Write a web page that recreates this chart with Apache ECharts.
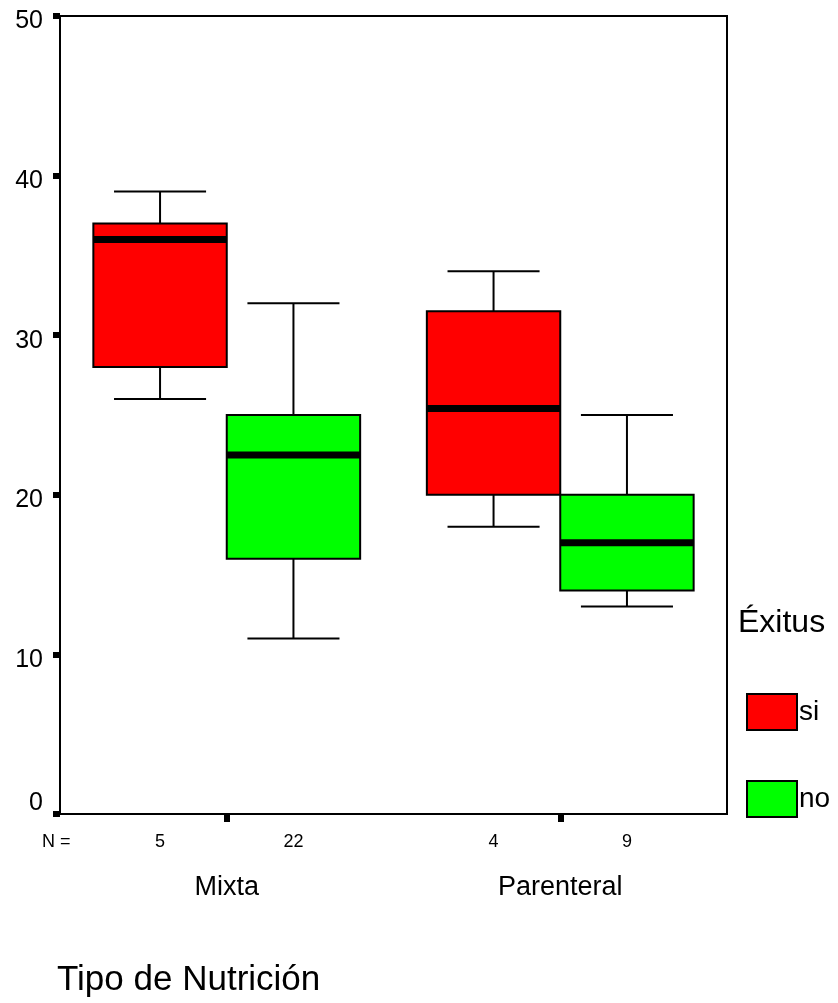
<!DOCTYPE html>
<html>
<head>
<meta charset="utf-8">
<script src="https://cdn.jsdelivr.net/npm/echarts@6/dist/echarts.min.js"></script>
<style>
  html, body { margin: 0; padding: 0; background: #fff; }
  #chart { width: 838px; height: 1003px; }
</style>
</head>
<body>
<div id="chart"></div>
<script>
// categories on the x axis
const categories = ["Mixta", "Parenteral"];
// [min, q1, median, q3, max] per category
const siStats = [[26, 28, 36, 37, 39], [18, 20, 25.4, 31.5, 34]];
const noStats = [[11, 16, 22.5, 25, 32], [13, 14, 17, 20, 25]];
// sample sizes shown under the boxes
const siN = [5, 4];
const noN = [22, 9];

const FONT = "'Liberation Sans', Arial, sans-serif";

const toData = (stats, counts) =>
  stats.map((s, i) => [i, s[0], s[1], s[2], s[3], s[4], counts[i]]);

// side: -1 puts the box left of the band center, +1 right of it
const makeRender = (side, fill) => (params, api) => {
  const x = api.value(0);
  const band = api.size([1, 0])[0];
  const half = band * 0.2;
  const capHalf = band * 0.138;
  const cx = api.coord([x, 0])[0] + side * half;
  const y = (i) => api.coord([x, api.value(i)])[1];
  const yLow = y(1), yQ1 = y(2), yMed = y(3), yQ3 = y(4), yHigh = y(5);
  const line = { stroke: "#000", lineWidth: 2 };
  const bottom = params.coordSys.y + params.coordSys.height;
  return {
    type: "group",
    children: [
      { type: "line", shape: { x1: cx, y1: yHigh, x2: cx, y2: yQ3 }, style: line },
      { type: "line", shape: { x1: cx, y1: yQ1, x2: cx, y2: yLow }, style: line },
      { type: "line", shape: { x1: cx - capHalf, y1: yHigh, x2: cx + capHalf, y2: yHigh }, style: line },
      { type: "line", shape: { x1: cx - capHalf, y1: yLow, x2: cx + capHalf, y2: yLow }, style: line },
      {
        type: "rect",
        shape: { x: cx - half, y: yQ3, width: half * 2, height: yQ1 - yQ3 },
        style: { fill: fill, stroke: "#000", lineWidth: 2 }
      },
      { type: "line", shape: { x1: cx - half, y1: yMed, x2: cx + half, y2: yMed }, style: { stroke: "#000", lineWidth: 7 } },
      {
        type: "text",
        style: {
          text: String(api.value(6)), x: cx, y: bottom + 28,
          align: "center", verticalAlign: "middle",
          fontSize: 18, fontFamily: FONT, fill: "#000"
        }
      }
    ]
  };
};

const chart = echarts.init(document.getElementById("chart"));
chart.setOption({
  backgroundColor: "#fff",
  animation: false,
  grid: {
    left: 60, right: 111, top: 16, bottom: 189,
    show: true, borderColor: "#000", borderWidth: 2, backgroundColor: "transparent"
  },
  xAxis: {
    type: "category",
    data: categories,
    axisLine: { show: false },
    axisTick: { show: true, alignWithLabel: true, length: 8, lineStyle: { color: "#000", width: 6 } },
    axisLabel: { color: "#000", fontSize: 27, fontFamily: FONT, margin: 60 },
    splitLine: { show: false }
  },
  yAxis: {
    type: "value",
    min: 0, max: 50, interval: 10,
    axisLine: { show: false },
    axisTick: { show: true, length: 7, lineStyle: { color: "#000", width: 6 } },
    axisLabel: {
      color: "#000", fontSize: 25, fontFamily: FONT, margin: 17,
      formatter: (v) => (v === 0 ? "{z|0}" : "{n|" + v + "}"),
      rich: {
        z: { fontSize: 25, fontFamily: FONT, color: "#000", padding: [0, 0, 22, 0] },
        n: { fontSize: 25, fontFamily: FONT, color: "#000", padding: [11, 0, 0, 0] }
      }
    },
    splitLine: { show: false }
  },
  legend: {
    orient: "vertical",
    left: 746, top: 693,
    padding: 0,
    icon: "rect",
    itemWidth: 50, itemHeight: 36, itemGap: 49,
    itemStyle: { borderColor: "#000", borderWidth: 2 },
    textStyle: { color: "#000", fontSize: 28, fontFamily: FONT, padding: [0, 0, 0, -3] },
    data: ["si", "no"]
  },
  graphic: [
    {
      type: "text", left: 738, top: 607,
      style: { text: "Éxitus", fontSize: 32, fontFamily: FONT, fill: "#000" }
    },
    {
      type: "text", left: 42, top: 833,
      style: { text: "N =", fontSize: 18, fontFamily: FONT, fill: "#000" }
    },
    {
      type: "text", left: 57, top: 963,
      style: { text: "Tipo de Nutrición", fontSize: 35, fontFamily: FONT, fill: "#000" }
    }
  ],
  series: [
    {
      name: "si", type: "custom",
      itemStyle: { color: "#ff0000" },
      encode: { x: 0, y: [1, 2, 3, 4, 5] },
      renderItem: makeRender(-1, "#ff0000"),
      data: toData(siStats, siN)
    },
    {
      name: "no", type: "custom",
      itemStyle: { color: "#00ff00" },
      encode: { x: 0, y: [1, 2, 3, 4, 5] },
      renderItem: makeRender(1, "#00ff00"),
      data: toData(noStats, noN)
    }
  ]
});
</script>
</body>
</html>
